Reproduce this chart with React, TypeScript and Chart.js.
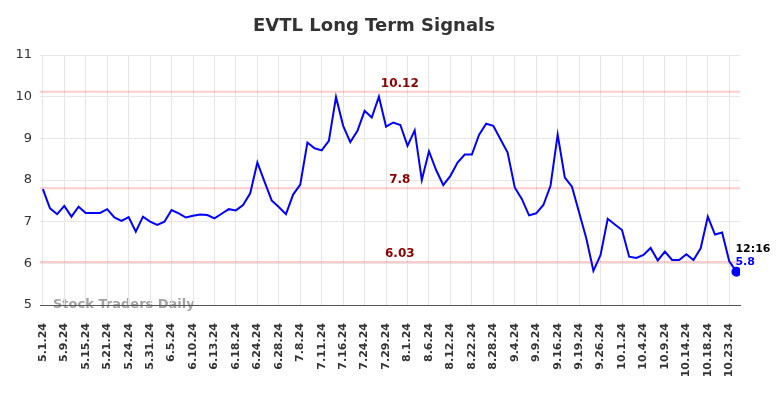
import React, { useEffect, useRef } from "react";
import { Chart, registerables } from "chart.js";

Chart.register(...registerables);

const titleText = "EVTL Long Term Signals";

const tickLabels = [
  "5.1.24", "5.9.24", "5.15.24", "5.21.24", "5.24.24", "5.31.24", "6.5.24",
  "6.10.24", "6.13.24", "6.18.24", "6.24.24", "6.28.24", "7.8.24", "7.11.24",
  "7.16.24", "7.24.24", "7.29.24", "8.1.24", "8.6.24", "8.12.24", "8.22.24",
  "8.28.24", "9.4.24", "9.9.24", "9.16.24", "9.19.24", "9.26.24", "10.1.24",
  "10.4.24", "10.9.24", "10.14.24", "10.18.24", "10.23.24",
];

const values = [
  7.78, 7.32, 7.18, 7.38, 7.12, 7.36, 7.21, 7.21, 7.21, 7.30,
  7.10, 7.02, 7.11, 6.76, 7.12, 7.00, 6.92, 7.00, 7.28, 7.20,
  7.10, 7.14, 7.17, 7.16, 7.08, 7.19, 7.30, 7.27, 7.40, 7.68,
  8.42, 7.96, 7.51, 7.35, 7.18, 7.65, 7.89, 8.90, 8.76, 8.71,
  8.94, 9.99, 9.30, 8.91, 9.18, 9.66, 9.50, 10.00, 9.28, 9.38,
  9.32, 8.82, 9.19, 8.00, 8.69, 8.24, 7.88, 8.10, 8.42, 8.61,
  8.61, 9.08, 9.35, 9.30, 8.98, 8.66, 7.82, 7.54, 7.15, 7.20,
  7.40, 7.86, 9.09, 8.06, 7.84, 7.22, 6.60, 5.82, 6.20, 7.07,
  6.93, 6.80, 6.16, 6.13, 6.20, 6.37, 6.07, 6.28, 6.08, 6.08,
  6.22, 6.08, 6.36, 7.12, 6.69, 6.74, 6.05, 5.80,
];

const levels = [10.12, 7.8, 6.03];
const levelLabels = ["10.12", "7.8", "6.03"];
const lastTime = "12:16";
const lastValueLabel = "5.8";
const watermark = "Stock Traders Daily";
const yMin = 5;
const yMax = 11;
const pointsPerTick = 3;

const FONT = "'DejaVu Sans', sans-serif";

export default function App() {
  const ref = useRef<HTMLCanvasElement>(null);

  useEffect(() => {
    if (!ref.current) return;
    const lastIndex = values.length - 1;

    const signalsPlugin = {
      id: "signals",
      beforeDraw(chart: any) {
        const { ctx, chartArea } = chart;
        ctx.save();
        ctx.font = `bold 13px ${FONT}`;
        ctx.fillStyle = "#a3a3a3";
        ctx.textBaseline = "middle";
        ctx.textAlign = "left";
        ctx.fillText(watermark, chartArea.left + 13, chartArea.bottom);
        ctx.restore();
      },
      beforeDatasetsDraw(chart: any) {
        const { ctx, chartArea } = chart;
        const ys = chart.scales.y;
        ctx.save();
        ctx.strokeStyle = "rgba(255,0,0,0.2)";
        ctx.lineWidth = 2;
        levels.forEach((lv) => {
          const py = ys.getPixelForValue(lv);
          ctx.beginPath();
          ctx.moveTo(chartArea.left, py);
          ctx.lineTo(chartArea.right, py);
          ctx.stroke();
        });
        ctx.restore();
      },
      afterDatasetsDraw(chart: any) {
        const { ctx, chartArea } = chart;
        const ys = chart.scales.y;
        const xs = chart.scales.x;
        ctx.save();
        ctx.font = `bold 12px ${FONT}`;
        ctx.fillStyle = "#8b0000";
        ctx.textAlign = "center";
        ctx.textBaseline = "middle";
        const cx = chartArea.left + (chartArea.right - chartArea.left) * 0.514;
        levels.forEach((lv, k) => {
          const py = ys.getPixelForValue(lv);
          ctx.fillText(levelLabels[k], cx, py - 8);
        });
        const px = xs.getPixelForValue(lastIndex);
        const py = ys.getPixelForValue(values[lastIndex]);
        ctx.font = `bold 11px ${FONT}`;
        ctx.textAlign = "left";
        ctx.fillStyle = "#000";
        ctx.fillText(lastTime, px - 1, py - 23);
        ctx.fillStyle = "#0000ff";
        ctx.fillText(lastValueLabel, px - 1, py - 10);
        ctx.restore();
      },
    };

    const chart = new Chart(ref.current, {
      type: "line",
      data: {
        datasets: [
          {
            data: values.map((v, i) => ({ x: i, y: v })),
            borderColor: "#0000ff",
            borderWidth: 2,
            pointRadius: (c: any) => (c.dataIndex === lastIndex ? 4 : 0),
            pointBackgroundColor: "#0000ff",
            pointBorderColor: "#0000ff",
            tension: 0,
            fill: false,
          },
        ],
      },
      options: {
        animation: false,
        responsive: true,
        maintainAspectRatio: false,
        layout: { padding: { left: 0, right: 36, top: 0, bottom: 0 } },
        plugins: {
          legend: { display: false },
          tooltip: { enabled: false },
          title: {
            display: true,
            text: titleText,
            color: "#333",
            font: { family: FONT, size: 18, weight: "bold" },
            padding: { top: 7.5, bottom: 17.9 },
          },
        },
        scales: {
          x: {
            type: "linear",
            min: -0.4,
            max: values.length - 0.5,
            afterBuildTicks: (s: any) => {
              s.ticks = tickLabels.map((_, k) => ({ value: k * pointsPerTick }));
            },
            afterFit: (s: any) => {
              s.height = 85;
            },
            ticks: {
              autoSkip: false,
              minRotation: 90,
              maxRotation: 90,
              padding: 18,
              color: "#333",
              font: { family: FONT, size: 11, weight: "bold" },
              callback: (v: any) => tickLabels[Math.round(Number(v) / pointsPerTick)] ?? "",
            },
            grid: { color: "#e6e6e6", drawTicks: false },
            border: { color: "#555", width: 1 },
          },
          y: {
            min: yMin,
            max: yMax,
            afterFit: (s: any) => {
              s.width = 32;
            },
            ticks: {
              stepSize: 1,
              padding: 8,
              color: "#333",
              font: { family: FONT, size: 13 },
            },
            grid: { color: "#e6e6e6", drawTicks: false },
            border: { display: false },
          },
        },
      },
      plugins: [signalsPlugin],
    } as any);

    return () => chart.destroy();
  }, []);

  return (
    <div style={{ width: 768, height: 382 }}>
      <canvas ref={ref} />
    </div>
  );
}
